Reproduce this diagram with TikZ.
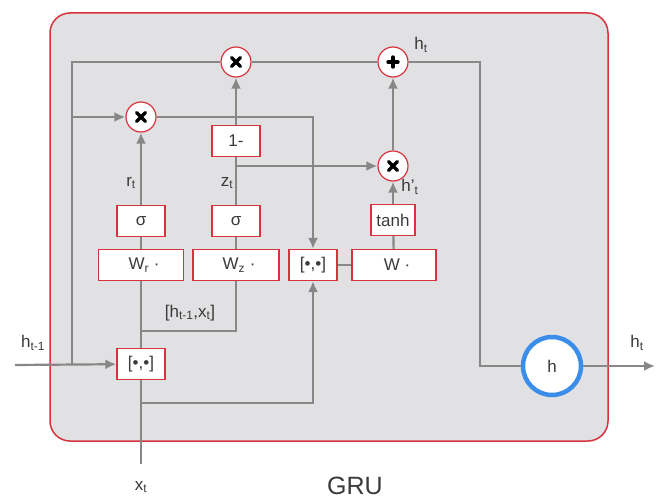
\documentclass[tikz,border=0pt]{standalone}
\usepackage{fontspec}
\setmainfont{Liberation Sans}
\usetikzlibrary{arrows.meta,calc}
\definecolor{lgray}{HTML}{878787}
\definecolor{bgray}{HTML}{E1E1E3}
\definecolor{rbord}{HTML}{D8323C}
\definecolor{hblue}{HTML}{3A8EEA}
\definecolor{txt}{HTML}{3A3A3A}
\begin{document}
\begin{tikzpicture}[x=1pt,y=-1pt,
  line/.style={draw=lgray,line width=2.2pt},
  arr/.style={line,-{Latex[length=11pt,width=10pt]}},
  box/.style={draw=rbord,fill=white,line width=1.3pt,inner sep=0pt,font=\fontsize{17}{17}\selectfont,text=txt},
  op/.style={circle,draw=rbord,fill=white,line width=1.2pt,minimum size=30pt,inner sep=0pt},
  lab/.style={font=\fontsize{17}{17}\selectfont,text=txt},
  xs/.style={line width=3.4pt,black,line cap=round}]
\useasboundingbox (0,0) rectangle (658,500);
\fill[white] (0,0) rectangle (658,500);
\draw[fill=bgray,draw=rbord,line width=1.5pt,rounded corners=20pt] (50,13) rectangle (608,441);

% operator nodes
\node[op] (m1) at (236,62) {};
\node[op] (pl) at (393,62) {};
\node[op] (mr) at (141,117) {};
\node[op] (m3) at (393,166) {};
\node[circle,draw=hblue,fill=white,line width=4.5pt,minimum size=58pt,inner sep=0pt,lab] (hc) at (552,366) {h};

% boxes
\node[box,minimum width=48pt,minimum height=31pt] (om) at (236,141) {1-};
\node[box,minimum width=48pt,minimum height=31pt] (sr) at (141,221) {σ};
\node[box,minimum width=48pt,minimum height=31pt] (sz) at (236,221) {σ};
\node[box,minimum width=44pt,minimum height=31pt] (th) at (393,220) {tanh};
\node[box,minimum width=85pt,minimum height=31pt] (wr) at (141,265) {\hspace*{6pt}W\textsubscript{r} ·};
\node[box,minimum width=86pt,minimum height=31pt] (wz) at (236,265) {\hspace*{6pt}W\textsubscript{z} ·};
\node[box,minimum width=48pt,minimum height=31pt] (cm) at (313,265) {[•,•]};
\node[box,minimum width=84pt,minimum height=31pt] (w) at (394,265) {\hspace*{6pt}W ·};
\node[box,minimum width=48pt,minimum height=31pt] (cb) at (141,364) {[•,•]};

% coordinates
\coordinate (in) at (15,365);
\coordinate (j1) at (72,365);
\coordinate (c1) at (72,62);
\coordinate (c2) at (72,117);
\coordinate (tr) at (480,200);
\coordinate (out) at (655,366);
\coordinate (xin) at (141,464);
\coordinate (k1) at (141,331);
\coordinate (k2) at (141,403);
\coordinate (k3) at (236,166);

% connectors
\draw[arr] (in) -- (cb);
\draw[line] (j1) -- (c1) -- (m1);
\draw[arr] (c2) -- (mr);
\draw[line] (m1) -- (pl);
\draw[line] (pl) -| (tr) |- (hc);
\draw[arr] (hc) -- (out);
\draw[arr] (mr) -| (cm);
\draw[line] (xin) -- (cb);
\draw[line] (cb) -- (wr);
\draw[line] (k1) -| (wz);
\draw[arr] (k2) -| (cm);
\draw[line] (wr) -- (sr);
\draw[arr] (sr) -- (mr);
\draw[line] (wz) -- (sz);
\draw[line] (sz) -- (om);
\draw[arr] (om) -- (m1);
\draw[arr] (k3) -- (m3);
\draw[line] (cm) -- (w);
\draw[line] (w) -- (th);
\draw[arr] (th) -- (m3);
\draw[arr] (m3) -- (pl);

% glyphs in operators
\foreach \n in {m1,mr,m3}{
  \draw[xs] ($(\n)+(-4.5,-4.5)$) -- ($(\n)+(4.5,4.5)$);
  \draw[xs] ($(\n)+(-4.5,4.5)$) -- ($(\n)+(4.5,-4.5)$);
}
\draw[xs] ($(pl)+(-5,0)$) -- ($(pl)+(5,0)$);
\draw[xs] ($(pl)+(0,-5)$) -- ($(pl)+(0,5)$);

% labels
\node[lab] (lh1) at (33,343) {h\textsubscript{t-1}};
\node[lab] (lht) at (421,45) {h\textsubscript{t}};
\node[lab] (lho) at (637,343) {h\textsubscript{t}};
\node[lab] (lr) at (131,183) {r\textsubscript{t}};
\node[lab] (lz) at (227,183) {z\textsubscript{t}};
\node[lab] (lhp) at (410,187) {h'\textsubscript{t}};
\node[lab] (lc) at (190,313) {[h\textsubscript{t-1},x\textsubscript{t}]};
\node[lab] (lx) at (141,487) {x\textsubscript{t}};
\node[font=\fontsize{25}{25}\selectfont,text=txt,inner sep=0pt] (gru) at (355,486) {GRU};
\end{tikzpicture}
\end{document}
